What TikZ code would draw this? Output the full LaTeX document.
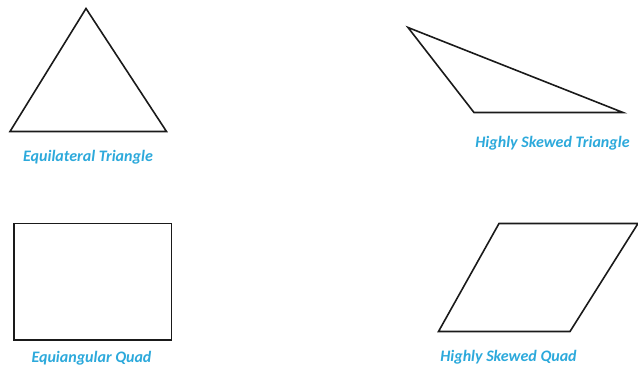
\documentclass[tikz,border=0pt]{standalone}
\usepackage{fontspec}
\setmainfont{Carlito}
\usepackage{xcolor}
\definecolor{label-blue}{HTML}{2CA9DB}
\definecolor{edge-dark}{HTML}{1A1A1A}

\begin{document}
\begin{tikzpicture}[x=1pt, y=-1pt,
        shape line/.style={draw=edge-dark, line width=1.6pt, line join=miter},
        shape label/.style={font=\fontsize{16}{18}\selectfont\bfseries\itshape,
            text=label-blue, inner sep=0pt}]
      \useasboundingbox (0,0) rectangle (638,371);
      % equilateral triangle
      \coordinate (ET1) at (86,8.5);
      \coordinate (ET2) at (10,131.5);
      \coordinate (ET3) at (166.5,131.5);
      \draw[shape line] (ET1) -- (ET2) -- (ET3) -- cycle;
      \node[shape label] (ETlab) at (88,157) {Equilateral Triangle};
      % highly skewed triangle
      \coordinate (ST1) at (408,27.5);
      \coordinate (ST2) at (474,112.5);
      \coordinate (ST3) at (623,112.5);
      \draw[shape line] (ST1) -- (ST2) -- (ST3) -- cycle;
      \node[shape label] (STlab) at (552.5,143) {Highly Skewed Triangle};
      % equiangular quad
      \coordinate (EQ1) at (14,223.5);
      \coordinate (EQ2) at (171.5,340);
      \draw[shape line] (EQ1) rectangle (EQ2);
      \node[shape label] (EQlab) at (91.5,358) {Equiangular Quad};
      % highly skewed quad
      \coordinate (SQ1) at (438.5,331.5);
      \coordinate (SQ2) at (499,223.5);
      \coordinate (SQ3) at (638,223.5);
      \coordinate (SQ4) at (570,331.5);
      \begin{scope}
        \clip (0,0) rectangle (638,371);
        \draw[shape line] (SQ1) -- (SQ2) -- (SQ3) -- (SQ4) -- cycle;
      \end{scope}
      \node[shape label] (SQlab) at (508.5,357) {Highly Skewed Quad};
    \end{tikzpicture}
\end{document}
